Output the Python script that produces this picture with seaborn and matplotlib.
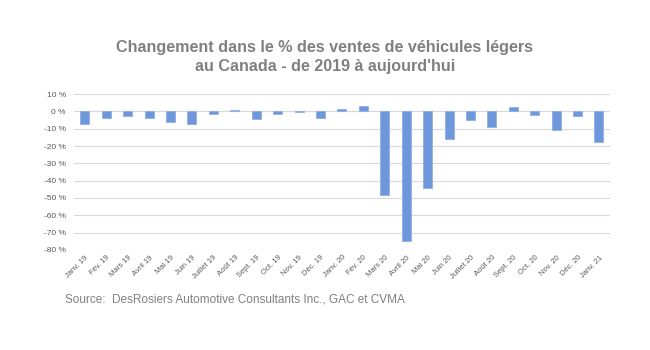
import pandas as pd
import seaborn as sns
import matplotlib.pyplot as plt
from matplotlib.ticker import FuncFormatter

sns.set_style('white')
plt.rcParams['font.family'] = ['Liberation Sans', 'DejaVu Sans']

# données
mois = ['Janv. 19', 'Fév. 19', 'Mars 19', 'Avril 19', 'Mai 19', 'Juin 19',
        'Juillet 19', 'Août 19', 'Sept. 19', 'Oct. 19', 'Nov. 19', 'Déc. 19',
        'Janv. 20', 'Fév. 20', 'Mars 20', 'Avril 20', 'Mai 20', 'Juin 20',
        'Juillet 20', 'Août 20', 'Sept. 20', 'Oct. 20', 'Nov. 20', 'Déc. 20',
        'Janv. 21']
variation = [-7.5, -3.9, -2.5, -3.9, -6.3, -7.5,
             -1.3, 0.8, -4.3, -1.2, -0.4, -3.5,
             1.2, 3.3, -48.0, -75.0, -44.0, -16.0,
             -4.8, -8.8, 2.4, -2.1, -10.6, -2.7,
             -17.8]
yticks = list(range(-80, 11, 10))

df = pd.DataFrame({'mois': mois, 'variation': variation})

gris = '#808080'

fig = plt.figure(figsize=(6.5, 3.5), dpi=100)
ax = fig.add_axes([0.114, 0.286, 0.824, 0.445])

sns.barplot(data=df, x='mois', y='variation', color='#6f97db',
            saturation=1, width=0.42, edgecolor='#8fb0e6', linewidth=0.6, ax=ax)

ax.set_ylim(-80, 10)
ax.set_xlim(-0.5, len(mois) - 0.5)
ax.set_yticks(yticks)
ax.yaxis.set_major_formatter(FuncFormatter(lambda v, p: f'{int(v)} %'))
ax.grid(axis='y', color='#d9d9d9', linewidth=0.8)
ax.set_axisbelow(True)
for s in ax.spines.values():
    s.set_visible(False)
ax.axhline(0, color='#d9d9d9', linewidth=0.8, zorder=0)

ax.tick_params(axis='y', labelsize=6, colors='#595959', length=0, pad=6)
ax.tick_params(axis='x', labelsize=5.5, colors='#595959', length=0, pad=3)
plt.setp(ax.get_xticklabels(), rotation=45, ha='right', rotation_mode='anchor')
ax.set_xlabel('')
ax.set_ylabel('')

fig.text(0.5, 0.837, "Changement dans le % des ventes de véhicules légers\nau Canada - de 2019 à aujourd'hui",
         ha='center', va='center', fontsize=11.6, fontweight='bold', color=gris, linespacing=1.3)
fig.text(0.1, 0.143, 'Source:  DesRosiers Automotive Consultants Inc., GAC et CVMA',
         ha='left', va='center', fontsize=8.5, color=gris)

plt.savefig('out.png', dpi=100)
